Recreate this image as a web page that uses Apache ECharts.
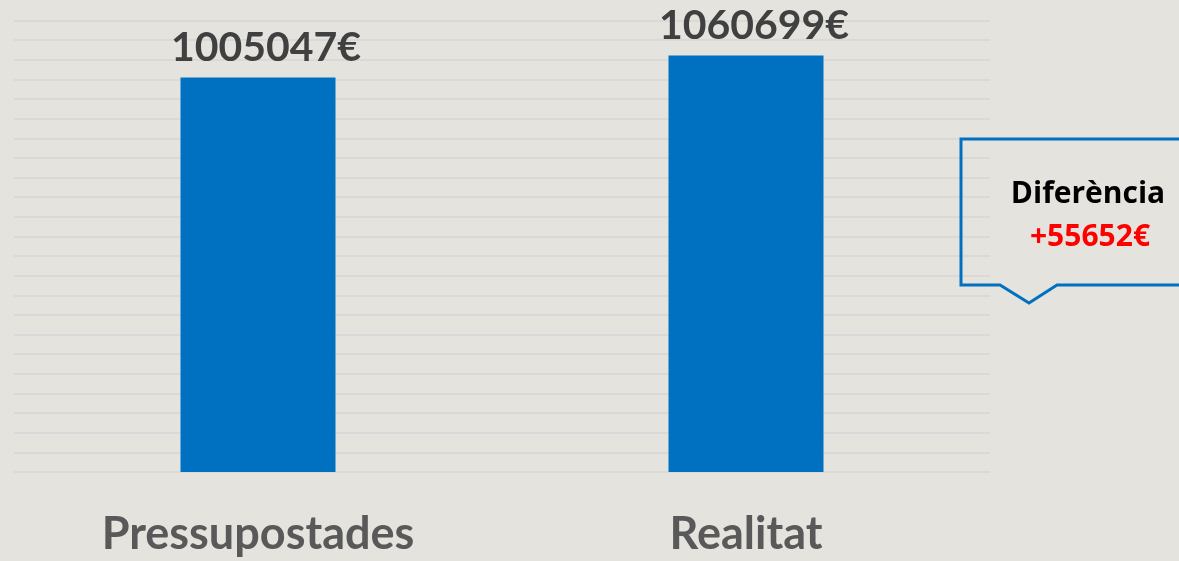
<!DOCTYPE html>
<html>
<head>
<meta charset="utf-8">
<title>Pressupostades vs Realitat</title>
<script src="https://cdn.jsdelivr.net/npm/echarts@6/dist/echarts.min.js"></script>
<style>
  html, body { margin: 0; padding: 0; background: #e5e3de; }
  #chart { width: 1179px; height: 561px; }
</style>
</head>
<body>
<div id="chart"></div>
<script>
// dades
const categories = ["Pressupostades", "Realitat"];
const values = [1005047, 1060699];
const calloutTitle = "Diferència";
const currency = "€";

const diff = values[1] - values[0];
const diffText = (diff >= 0 ? "+" : "") + diff + currency;

const chart = echarts.init(document.getElementById("chart"));

chart.setOption({
  backgroundColor: "#e5e3de",
  animation: false,
  grid: {
    left: 14,
    right: 189,
    top: 20.5,
    bottom: 89,
    containLabel: false
  },
  xAxis: {
    type: "category",
    data: categories,
    axisLine: { show: false },
    axisTick: { show: false },
    axisLabel: {
      margin: 40,
      fontFamily: "Lato",
      fontWeight: "bold",
      fontSize: 45,
      color: "#595959"
    }
  },
  yAxis: {
    type: "value",
    min: 0,
    max: 1150000,
    interval: 50000,
    axisLabel: { show: false },
    axisLine: { show: false },
    axisTick: { show: false },
    splitLine: {
      lineStyle: {
        color: "#d6d6d8",
        width: 1.5
      }
    }
  },
  series: [
    {
      type: "bar",
      data: values,
      barWidth: 155,
      itemStyle: {
        color: "#0070c0"
      },
      label: {
        show: true,
        position: "top",
        distance: 9,
        offset: [8, 0],
        formatter: function (p) {
          return p.value + currency;
        },
        fontFamily: "Lato",
        fontWeight: "bold",
        fontSize: 41,
        color: "#404040"
      }
    }
  ],
  graphic: [
    {
      type: "polyline",
      z: 100,
      shape: {
        points: [
          [1185, 139],
          [961, 139],
          [961, 285],
          [1000, 285],
          [1029, 303],
          [1057, 285],
          [1185, 285]
        ]
      },
      style: {
        fill: null,
        stroke: "#0070c0",
        lineWidth: 3
      }
    },
    {
      type: "text",
      z: 100,
      x: 1088,
      y: 194,
      style: {
        text: calloutTitle,
        fontFamily: "Open Sans",
        fontWeight: "bold",
        fontSize: 30,
        fill: "#000000",
        align: "center",
        verticalAlign: "middle"
      }
    },
    {
      type: "text",
      z: 100,
      x: 1090,
      y: 237,
      style: {
        text: diffText,
        fontFamily: "Open Sans",
        fontWeight: "bold",
        fontSize: 30,
        fill: "#ff0000",
        align: "center",
        verticalAlign: "middle"
      }
    }
  ]
});
</script>
</body>
</html>
